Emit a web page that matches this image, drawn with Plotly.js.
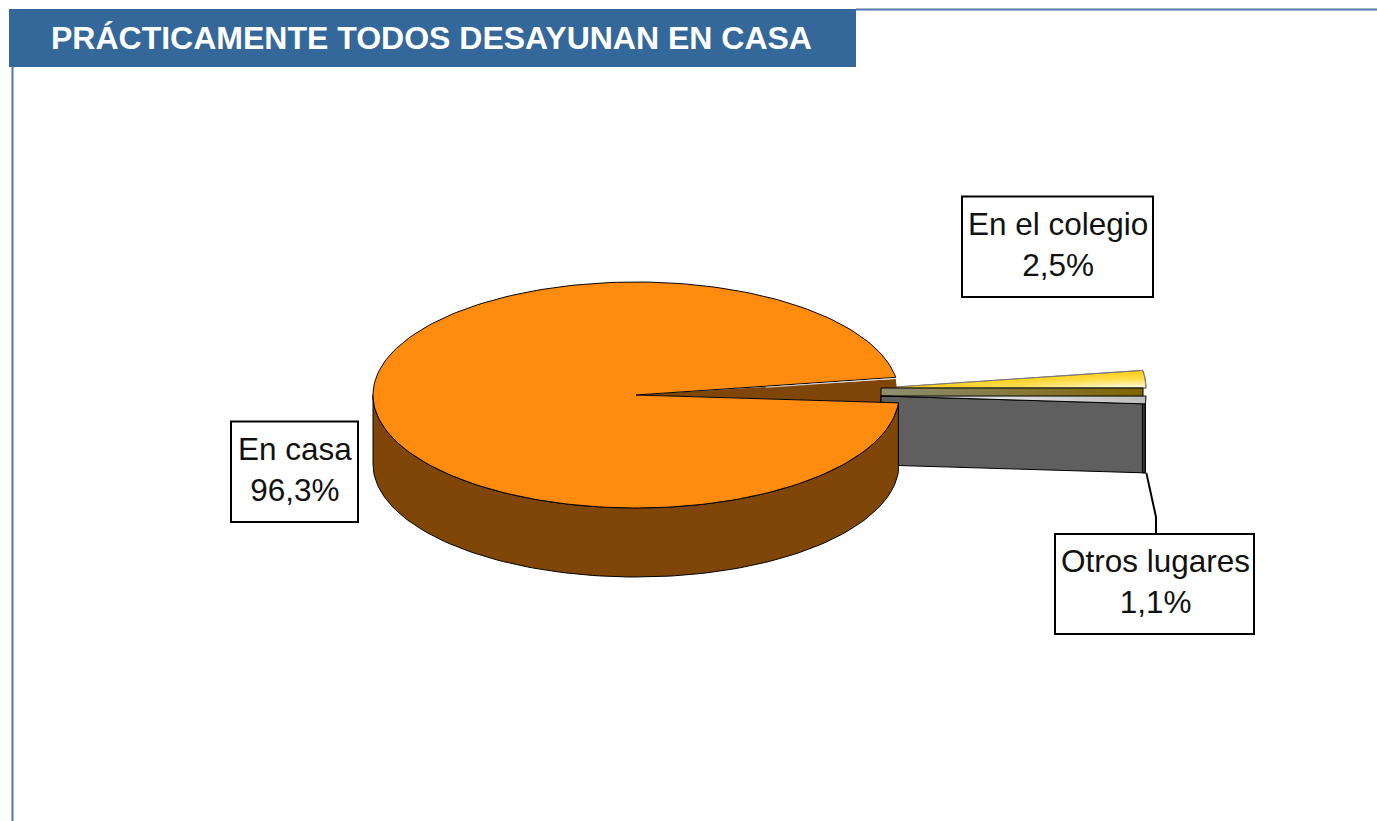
<!DOCTYPE html>
<html><head><meta charset="utf-8">
<script src="https://cdn.plot.ly/plotly-3.0.1.min.js"></script>
<style>html,body{margin:0;padding:0;background:#fff}#chart{width:1377px;height:821px}</style>
</head><body><div id="chart"></div>
<script>
// ---- data ----
const titleText = "PRÁCTICAMENTE TODOS DESAYUNAN EN CASA";
const categories = ["En casa", "En el colegio", "Otros lugares"];
const shares = [96.3, 2.5, 1.1];
const shareLabels = ["96,3%", "2,5%", "1,1%"];

// ---- projection of the tilted pie, in page pixels (axes span the page) ----
const W = 1377, H = 821;
const centre = {x: 636, y: 395}, rx = 263, ry = 113, depth = 69;
const burstColegio = {x: 881, y: 388}, burstOtros = {x: 881, y: 396}, burstRx = 265;
const firstBoundary = -4;          // degrees where "Otros lugares" starts
const total = shares.reduce((a, b) => a + b, 0);
const deg = shares.map(v => v / total * 360);
const aOtros0 = firstBoundary, aOtros1 = aOtros0 + deg[2], aCole1 = aOtros1 + deg[1], aCasa1 = aCole1 + deg[0];

const pt = (c, a, r = rx, dy = 0) => {
  const t = a * Math.PI / 180;
  return [c.x + r * Math.cos(t), c.y - ry * Math.sin(t) + dy];
};
const arc = (c, a0, a1, r = rx, dy = 0) => {
  const n = Math.max(2, Math.ceil(Math.abs(a1 - a0) / 1.5)), out = [];
  for (let i = 0; i <= n; i++) out.push(pt(c, a0 + (a1 - a0) * i / n, r, dy));
  return out;
};
const poly = (pts, fill, extra = {}) => ({
  type: "scatter", mode: "lines", hoverinfo: "skip", showlegend: false,
  x: pts.map(p => p[0]), y: pts.map(p => p[1]),
  fill: "toself", fillcolor: fill, line: {color: "#000", width: 1}, ...extra
});
const close = pts => pts.concat([pts[0]]);

const c = centre, cc = burstColegio, co = burstOtros;
const cApex = [cc.x, cc.y], oApex = [co.x, co.y];
const yellow = close([cApex].concat(arc(cc, aOtros1, aCole1, burstRx)));
const traces = [];

// "En el colegio": top face, gold fading to pale at the lower right
traces.push(poly(yellow, "#FFD21E", {
  fillgradient: {type: "vertical", start: 369, stop: 388,
    colorscale: [[0, "#FFC800"], [0.55, "#FFDF50"], [1, "#FFFDE6"]]},
  line: {color: "#777", width: 1}
}));
traces.push(poly(yellow, "rgba(0,0,0,0)", {
  fillgradient: {type: "horizontal", start: 881, stop: 1120,
    colorscale: [[0, "rgba(255,200,0,1)"], [0.6, "rgba(255,205,10,0.6)"], [1, "rgba(255,210,20,0)"]]},
  line: {color: "#777", width: 1}
}));

// Inner cut of the main slice, seen through the gap
traces.push(poly(close([[c.x, c.y], [pt(c, aCole1)[0], pt(c, aCole1)[1] + 1.5], pt(c, aCasa1)]), "#7F4608", {line: {color: "#7F4608", width: 0}}));

// "En el colegio": cut wall
const oliveEnd = cc.x + burstRx - 3;
traces.push(poly(close([cApex, [oliveEnd, cc.y], [oliveEnd, cc.y + depth], [cc.x, cc.y + depth]]), "#7F6500", {
  fillgradient: {type: "horizontal", start: 881, stop: 1143,
    colorscale: [[0, "#8E8E72"], [0.5, "#857A3C"], [1, "#7F6500"]]}
}));

// "Otros lugares": cut wall, outer rim, top face
const oOut = pt(co, aOtros0, burstRx);
traces.push(poly(close([oApex, oOut, [oOut[0], oOut[1] + depth], [co.x, co.y + depth]]), "#5F5F5F"));
traces.push(poly(close([[oOut[0] - 3, oOut[1]], oOut, [oOut[0], oOut[1] + depth], [oOut[0] - 3, oOut[1] + depth]]), "#333333"));
traces.push(poly(close([oApex].concat(arc(co, aOtros0, aOtros1, burstRx))), "#C0C0C0", {
  fillgradient: {type: "horizontal", start: 881, stop: 1146,
    colorscale: [[0, "#8A8A8A"], [0.45, "#E4E4E4"], [1, "#BDBDBD"]]}
}));
// leader of "Otros lugares"
traces.push({type: "scatter", mode: "lines", hoverinfo: "skip", showlegend: false,
  x: [oOut[0] + 1, 1156, 1156], y: [oOut[1] + depth, 517, 534], line: {color: "#000", width: 2}});

// "En casa": side wall and top face
const wallTop = arc(c, aCasa1, 180);
const wallBottom = arc(c, 180, aCasa1, rx, depth);
traces.push(poly(close(wallTop.concat(wallBottom)), "#7F4608"));
traces.push(poly(close([[c.x, c.y]].concat(arc(c, aCole1, aCasa1))), "#FF8C0F"));
// pale sliver along the upper edge of the gap
traces.push({type: "scatter", mode: "lines", hoverinfo: "skip", showlegend: false,
  x: [c.x + 130, pt(c, aCole1)[0]], y: [c.y - 8.5 + 0.9, pt(c, aCole1)[1] + 0.9], line: {color: "#DDD", width: 0.8}});

// Labels: framed boxes plus their text
const boxes = [
  {i: 0, x0: 231, y0: 421.5, x1: 358, y1: 522},
  {i: 1, x0: 962, y0: 196.5, x1: 1153, y1: 297},
  {i: 2, x0: 1055, y0: 534, x1: 1254, y1: 634}
];
const annotations = boxes.map(b => ({
  xref: "x", yref: "y", x: (b.x0 + b.x1) / 2 + 0.5, y: (b.y0 + b.y1) / 2 - 2.5, xanchor: "center", yanchor: "middle",
  borderpad: 0, borderwidth: 0, showarrow: false, align: "center",
  text: categories[b.i] + "<br>" + shareLabels[b.i],
  font: {family: "Liberation Sans, Arial, sans-serif", size: 31.5, color: "#111"}
}));

const frame = "#4F78A8";
const layout = {
  width: W, height: H, margin: {l: 0, r: 0, t: 0, b: 0, pad: 0},
  paper_bgcolor: "#fff", plot_bgcolor: "#fff", showlegend: false, hovermode: false,
  xaxis: {range: [0, W], visible: false, fixedrange: true},
  yaxis: {range: [H, 0], visible: false, fixedrange: true},
  title: {text: "<b>" + titleText + "</b>", x: 51 / W, xref: "paper", xanchor: "left",
    y: 1 - 38 / H, yref: "paper", yanchor: "middle",
    font: {family: "Liberation Sans, Arial, sans-serif", size: 32, color: "#fff"}},
  annotations,
  shapes: [
    {type: "line", xref: "x", yref: "y", x0: 856, x1: W, y0: 9.5, y1: 9.5, line: {color: frame, width: 2}, layer: "below"},
    {type: "line", xref: "x", yref: "y", x0: 12.5, x1: 12.5, y0: 60, y1: H, line: {color: frame, width: 2}, layer: "below"},
    {type: "rect", xref: "x", yref: "y", x0: 9, x1: 856, y0: 9, y1: 67, fillcolor: "#34679A", line: {width: 0}, layer: "above"}
  ].concat(boxes.map(b => ({type: "rect", xref: "x", yref: "y", x0: b.x0, x1: b.x1, y0: b.y0, y1: b.y1,
    fillcolor: "#fff", line: {color: "#000", width: 2}, layer: "above"})))
};
Plotly.newPlot("chart", traces, layout, {displayModeBar: false, staticPlot: true});
</script></body></html>
